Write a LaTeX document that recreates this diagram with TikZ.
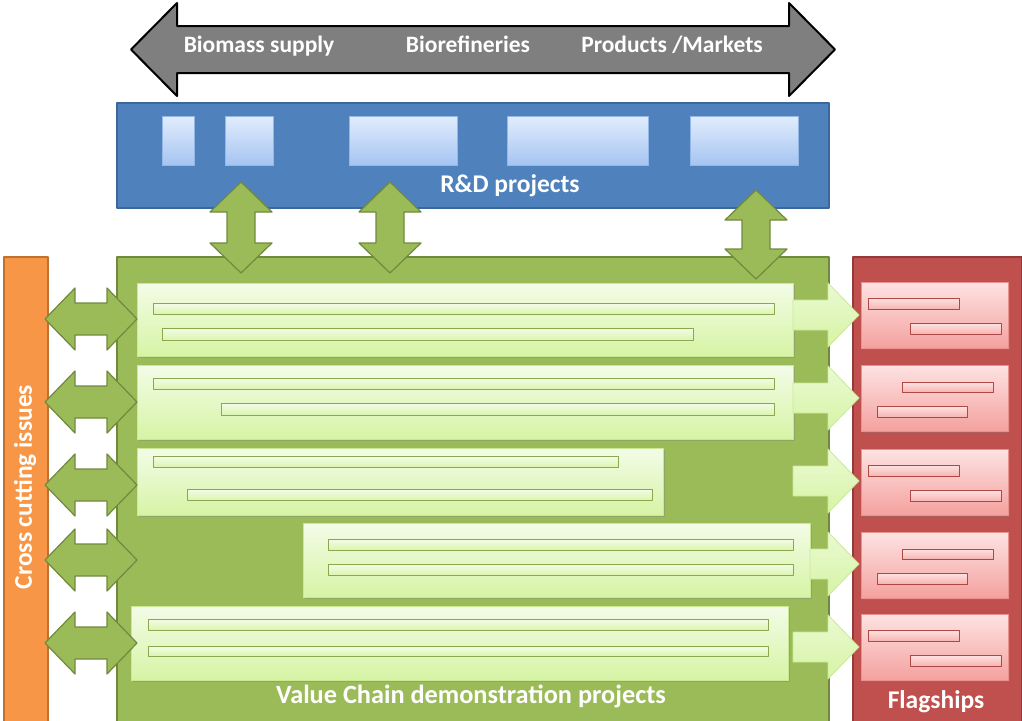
\documentclass[tikz,border=0pt]{standalone}
\usepackage{fontspec}
\setmainfont{Carlito}
\usetikzlibrary{positioning}
\usetikzlibrary{shadows}

\definecolor{rdblue}{HTML}{4F81BD}
\definecolor{rdline}{HTML}{3A679C}
\definecolor{rdtop}{HTML}{E1EDFD}
\definecolor{rdbot}{HTML}{A6C4F2}
\definecolor{vcgreen}{HTML}{9BBB59}
\definecolor{vcline}{HTML}{71893F}
\definecolor{vctop}{HTML}{F3FCE8}
\definecolor{vcbot}{HTML}{D6F4A4}
\definecolor{ccorange}{HTML}{F79646}
\definecolor{ccline}{HTML}{C0712F}
\definecolor{fsred}{HTML}{C0504D}
\definecolor{fsline}{HTML}{943B39}
\definecolor{fstop}{HTML}{FDE3E2}
\definecolor{fsbot}{HTML}{F4A19E}
\definecolor{streamgray}{HTML}{7F7F7F}

\begin{document}
\begin{tikzpicture}[line cap=round,line join=round,x=1pt,y=-1pt,
  frame/.style={anchor=north west,inner sep=0pt,line width=1.5pt},
  vcbox/.style={anchor=north west,inner sep=0pt,draw=vcbot!80!vcgreen,top color=vctop,bottom color=vcbot,
    drop shadow={opacity=0.35,shadow xshift=1.5pt,shadow yshift=-1.5pt}},
  vcbar/.style={draw=vcgreen!90!black,line width=0.6pt,top color=vctop,bottom color=vcbot!85!vctop},
  fsbox/.style={anchor=north west,inner sep=0pt,draw=fsbot!80!fsred,top color=fstop,bottom color=fsbot,
    minimum width=147,minimum height=66,drop shadow={opacity=0.35,shadow xshift=1.5pt,shadow yshift=-1.5pt}},
  fsbar/.style={draw=fsred!90!black,line width=0.7pt,top color=fstop,bottom color=fsbot!70!fstop},
  rdbox/.style={top color=rdtop,bottom color=rdbot,draw=rdbot!80!rdblue,line width=0.4pt},
  linkarrow/.style={fill=vcgreen,draw=vcline,line width=1.2pt},
  outarrow/.style={top color=vctop!70!vcbot,bottom color=vcbot,draw=vcbot!80!vcgreen,line width=0.8pt},
  title/.style={text=white,font=\bfseries\fontsize{25.5}{28}\selectfont,inner sep=0pt},
  streamtext/.style={text=white,font=\bfseries\fontsize{23.5}{26}\selectfont,inner sep=0pt,anchor=base}]
\useasboundingbox (0,0) rectangle (1022,720);

% frames
\node[frame,draw=rdline,fill=rdblue,minimum width=712,minimum height=105] (rd) at (116,102) {};
\node[frame,draw=vcline,fill=vcgreen,minimum width=712,minimum height=472] (vc) at (116,256) {};
\node[frame,draw=ccline,fill=ccorange,minimum width=44,minimum height=472] (cross) at (3,256) {};
\node[frame,draw=fsline,fill=fsred,minimum width=169,minimum height=472] (flag) at (852,256) {};

% value chain stream
\draw[fill=streamgray,line width=2pt] (131,49.5) -- (177,3) -- (177,26) -- (789,26) -- (789,3) -- (835,49.5)
  -- (789,96) -- (789,73) -- (177,73) -- (177,96) -- cycle;
\node[streamtext] (biomass) at (259,52.5) {Biomass supply};
\node[streamtext] (biorefs) at (468,52.5) {Biorefineries};
\node[streamtext] (products) at (672,52.5) {Products /Markets};

% R&D projects
\foreach \a/\b in {162/194,225/273,349/457,507/648,690/798}
  \draw[rdbox] (\a,116) rectangle (\b,165);
\node[title] (rdlabel) at (510,186) {R\&D projects};

% links R&D <-> demonstration
\foreach \x/\t/\b in {241/182/273,390/182/273,756/190/279}
  \draw[linkarrow] (\x,\t) -- (\x+31,\t+30) -- (\x+14,\t+30) -- (\x+14,\b-30) -- (\x+31,\b-30) -- (\x,\b)
    -- (\x-31,\b-30) -- (\x-14,\b-30) -- (\x-14,\t+30) -- (\x-31,\t+30) -- cycle;

% demonstration projects
\node[vcbox,minimum width=656,minimum height=73] (p1) at (137,283) {};
\node[vcbox,minimum width=656,minimum height=74] (p2) at (137,365) {};
\node[vcbox,minimum width=526,minimum height=67] (p3) at (137,448) {};
\node[vcbox,minimum width=507,minimum height=74] (p4) at (303,523) {};
\node[vcbox,minimum width=657,minimum height=74] (p5) at (131,606) {};
\foreach \a/\b/\c/\d in {153/303/774/314,162/328/693/340,153/378/774/389,221/403/774/415,153/456/618/467,
  187/489/652/500,328/539/793/550,328/564/793/575,148/619/768/630,148/646/768/656}
  \draw[vcbar] (\a,\b) rectangle (\c,\d);
\node[title,font=\bfseries\fontsize{26.3}{28}\selectfont] (vclabel) at (471,696) {Value Chain demonstration projects};

% cross cutting links
\foreach \y in {319,402,485,560,643}
  \draw[linkarrow] (45,\y) -- (75,\y-31) -- (75,\y-16) -- (107,\y-16) -- (107,\y-31) -- (137,\y)
    -- (107,\y+31) -- (107,\y+16) -- (75,\y+16) -- (75,\y+31) -- cycle;
\node[title,rotate=90] (crosslabel) at (25,487) {Cross cutting issues};

% to flagships
\foreach \s/\y in {793/315,793/398,793/481,810/564,793/647}
  \draw[outarrow] (\s,\y-15) -- (828,\y-15) -- (828,\y-32) -- (859,\y) -- (828,\y+32) -- (828,\y+15) -- (\s,\y+15) -- cycle;

% flagships
\foreach \i/\t in {1/282,3/449,5/614}{
  \node[fsbox] (f\i) at (861,\t) {};
  \draw[fsbar] (868,\t+16) rectangle (959,\t+27);
  \draw[fsbar] (910,\t+41) rectangle (1001,\t+52);
}
\foreach \i/\t in {2/365,4/532}{
  \node[fsbox] (f\i) at (861,\t) {};
  \draw[fsbar] (902,\t+17) rectangle (993,\t+27);
  \draw[fsbar] (877,\t+41) rectangle (967,\t+52);
}
\node[title] (flaglabel) at (936,702) {Flagships};
\end{tikzpicture}
\end{document}
